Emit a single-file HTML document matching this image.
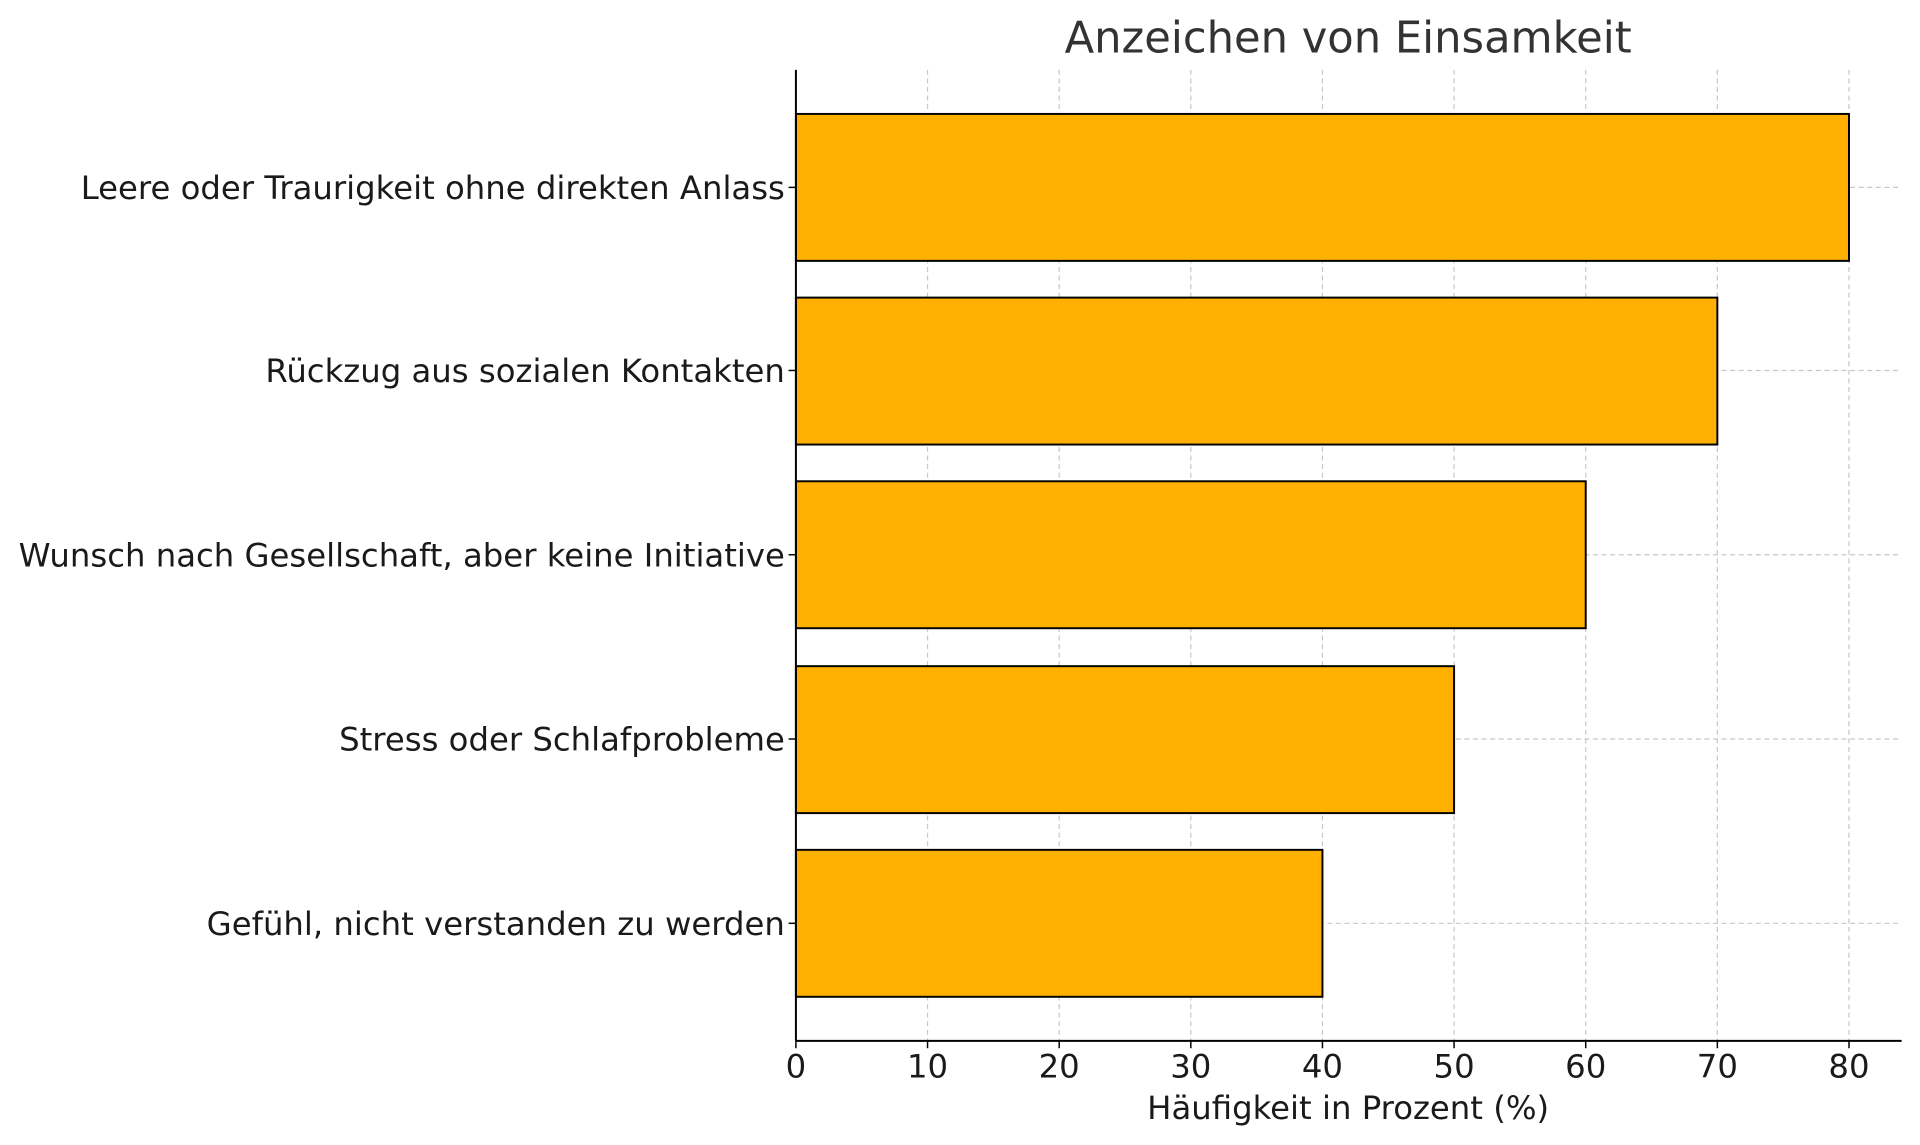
<!DOCTYPE html>
<html><head><meta charset="utf-8"><style>html,body{margin:0;padding:0;background:#fff}svg{display:block}</style></head>
<body>
<svg width="1920" height="1145" viewBox="0 0 1568 935" xmlns="http://www.w3.org/2000/svg" font-family="DejaVu Sans, Liberation Sans, sans-serif">
<rect width="1568" height="935" fill="#fff"/>
<g stroke="#c8c8c8" stroke-width="1" stroke-dasharray="4,3">
<line x1="757.5" y1="57" x2="757.5" y2="850"/>
<line x1="865" y1="57" x2="865" y2="850"/>
<line x1="972.5" y1="57" x2="972.5" y2="850"/>
<line x1="1080" y1="57" x2="1080" y2="850"/>
<line x1="1187.5" y1="57" x2="1187.5" y2="850"/>
<line x1="1295" y1="57" x2="1295" y2="850"/>
<line x1="1402.5" y1="57" x2="1402.5" y2="850"/>
<line x1="1510" y1="57" x2="1510" y2="850"/>
<line x1="650" y1="153" x2="1553" y2="153"/>
<line x1="650" y1="302.5" x2="1553" y2="302.5"/>
<line x1="650" y1="453" x2="1553" y2="453"/>
<line x1="650" y1="603.5" x2="1553" y2="603.5"/>
<line x1="650" y1="754" x2="1553" y2="754"/>
</g>
<g fill="#FFB000" stroke="#000" stroke-width="1.6">
<rect x="650" y="93" width="860" height="120"/>
<rect x="650" y="243" width="752.5" height="120"/>
<rect x="650" y="393" width="645" height="120"/>
<rect x="650" y="544" width="537.5" height="120"/>
<rect x="650" y="694" width="430" height="120"/>
</g>
<g stroke="#000" stroke-width="1.6">
<line x1="650" y1="57" x2="650" y2="850"/>
<line x1="650" y1="850" x2="1553" y2="850"/>
<g stroke-width="1.2">
<line x1="650" y1="850" x2="650" y2="856"/><line x1="757.5" y1="850" x2="757.5" y2="856"/><line x1="865" y1="850" x2="865" y2="856"/><line x1="972.5" y1="850" x2="972.5" y2="856"/><line x1="1080" y1="850" x2="1080" y2="856"/><line x1="1187.5" y1="850" x2="1187.5" y2="856"/><line x1="1295" y1="850" x2="1295" y2="856"/><line x1="1402.5" y1="850" x2="1402.5" y2="856"/><line x1="1510" y1="850" x2="1510" y2="856"/>
<line x1="644" y1="153" x2="650" y2="153"/><line x1="644" y1="302.5" x2="650" y2="302.5"/><line x1="644" y1="453" x2="650" y2="453"/><line x1="644" y1="603.5" x2="650" y2="603.5"/><line x1="644" y1="754" x2="650" y2="754"/>
</g>
</g>
<g font-size="26.4" fill="#1a1a1a" text-anchor="middle">
<text x="650" y="880">0</text><text x="757.5" y="880">10</text><text x="865" y="880">20</text><text x="972.5" y="880">30</text><text x="1080" y="880">40</text><text x="1187.5" y="880">50</text><text x="1295" y="880">60</text><text x="1402.5" y="880">70</text><text x="1510" y="880">80</text>
<text x="1101" y="914">Häufigkeit in Prozent (%)</text>
</g>
<g font-size="26.4" fill="#1a1a1a" text-anchor="end">
<text x="641" y="162.5">Leere oder Traurigkeit ohne direkten Anlass</text>
<text x="641" y="312">Rückzug aus sozialen Kontakten</text>
<text x="641" y="462.5">Wunsch nach Gesellschaft, aber keine Initiative</text>
<text x="641" y="613">Stress oder Schlafprobleme</text>
<text x="641" y="763.5">Gefühl, nicht verstanden zu werden</text>
</g>
<text x="1101" y="43" font-size="35.3" fill="#333" text-anchor="middle">Anzeichen von Einsamkeit</text>
</svg>
</body></html>
